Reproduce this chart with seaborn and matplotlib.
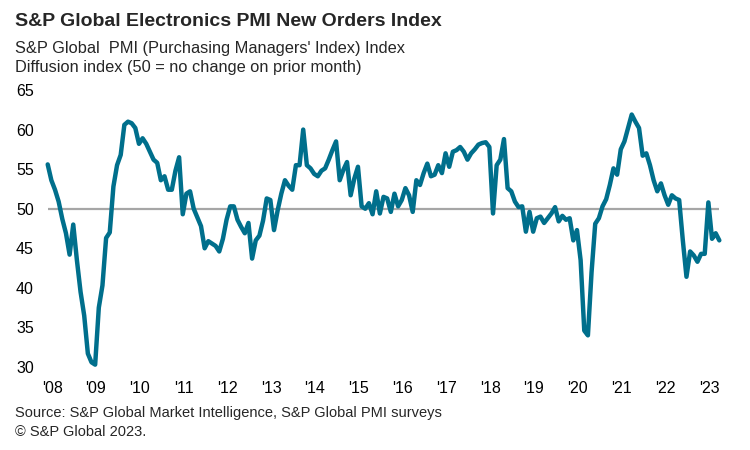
import matplotlib
matplotlib.use('Agg')
import matplotlib.pyplot as plt
import numpy as np
import pandas as pd
import seaborn as sns

# monthly new orders index, Jan 2008 - May 2023
values_2008 = [55.6, 53.6, 52.4, 50.9, 48.7, 46.9, 44.2, 48.0, 43.5, 39.5, 36.5, 31.7]
values_2009 = [30.6, 30.3, 37.5, 40.3, 46.3, 47.0, 52.8, 55.5, 56.8, 60.6, 61.0, 60.8]
values_2010 = [60.2, 58.2, 58.9, 58.2, 57.2, 56.2, 55.8, 53.6, 54.1, 52.4, 52.4, 54.8]
values_2011 = [56.5, 49.3, 51.9, 52.2, 50.0, 48.9, 47.8, 45.0, 45.9, 45.6, 45.3, 44.6]
values_2012 = [46.2, 48.6, 50.3, 50.3, 48.6, 47.7, 46.9, 48.2, 43.7, 46.0, 46.6, 48.5]
values_2013 = [51.3, 51.1, 47.3, 49.8, 51.9, 53.6, 52.9, 52.4, 55.5, 55.5, 60.0, 55.5]
values_2014 = [55.1, 54.4, 54.1, 54.8, 55.1, 56.2, 57.4, 58.5, 53.6, 54.9, 55.9, 51.7]
values_2015 = [53.8, 55.3, 50.3, 50.0, 50.7, 49.3, 52.2, 49.4, 51.5, 51.3, 49.6, 51.9]
values_2016 = [50.3, 51.1, 52.6, 51.7, 49.6, 53.6, 53.0, 54.5, 55.7, 54.1, 54.3, 55.5]
values_2017 = [54.5, 57.0, 55.3, 57.2, 57.4, 57.8, 57.2, 56.2, 57.0, 57.5, 58.1, 58.3]
values_2018 = [58.4, 57.8, 49.4, 55.5, 56.2, 58.8, 52.6, 52.2, 50.9, 50.2, 50.3, 47.1]
values_2019 = [49.6, 47.1, 48.8, 49.0, 48.2, 48.8, 49.4, 50.2, 48.4, 49.1, 48.6, 48.8]
values_2020 = [46.0, 47.3, 43.5, 34.6, 34.0, 42.0, 48.1, 48.8, 50.3, 51.2, 53.0, 55.1]
values_2021 = [54.3, 57.5, 58.5, 60.2, 61.9, 61.0, 60.2, 56.7, 57.0, 55.5, 53.6, 52.2]
values_2022 = [53.2, 51.7, 50.5, 51.7, 51.3, 51.1, 46.0, 41.4, 44.6, 44.1, 43.3, 44.3]
values_2023 = [44.3, 50.8, 46.2, 46.9, 46.0]

year_labels = ["'08", "'09", "'10", "'11", "'12", "'13", "'14", "'15",
               "'16", "'17", "'18", "'19", "'20", "'21", "'22", "'23"]
y_ticks = [30, 35, 40, 45, 50, 55, 60, 65]

TITLE = 'S&P Global Electronics PMI New Orders Index'
SUBTITLE_1 = "S&P Global  PMI (Purchasing Managers' Index) Index"
SUBTITLE_2 = 'Diffusion index (50 = no change on prior month)'
SOURCE = 'Source: S&P Global Market Intelligence, S&P Global PMI surveys'
COPYRIGHT = '© S&P Global 2023.'


def build_frame():
    """Stacks the yearly lists into one dataframe with a running month number"""
    values = (values_2008 + values_2009 + values_2010 + values_2011 + values_2012
              + values_2013 + values_2014 + values_2015 + values_2016 + values_2017
              + values_2018 + values_2019 + values_2020 + values_2021 + values_2022
              + values_2023)
    return pd.DataFrame({'month': np.arange(len(values)), 'new_orders': values})


def create_new_orders_lineplot(df):
    """Draws the new orders index line with the 50 reference line and saves out.png"""
    sns.set_style('white')
    plt.rcParams['font.family'] = ['Liberation Sans', 'DejaVu Sans']

    fig = plt.figure(figsize=(7.5, 4.5), dpi=100)
    ax = fig.add_axes([0.0636, 0.1844, 0.8955, 0.6156])

    ax.axhline(50, color='#A6A6A6', lw=1.6, zorder=1)
    sns.lineplot(data=df, x='month', y='new_orders', color='#006F8C',
                 lw=3.2, ax=ax, clip_on=False, zorder=2)

    ax.set_xlim(0, len(df) - 1)
    ax.set_ylim(30, 65)
    ax.set_yticks(y_ticks)
    ax.set_xticks([12 * i + 1.2 for i in range(len(year_labels))])
    ax.set_xticklabels(year_labels)
    ax.set_xlabel('')
    ax.set_ylabel('')
    ax.tick_params(axis='both', length=0, labelsize=11.5, colors='#000000')
    ax.tick_params(axis='y', pad=10)
    ax.tick_params(axis='x', pad=10)
    sns.despine(ax=ax, left=True, bottom=True)

    fig.text(0.02, 0.953, TITLE, fontsize=14, fontweight='bold', va='center')
    fig.text(0.02, 0.893, SUBTITLE_1, fontsize=11.8, va='center')
    fig.text(0.02, 0.849, SUBTITLE_2, fontsize=11.8, va='center')
    fig.text(0.02, 0.082, SOURCE, fontsize=10.5, va='center')
    fig.text(0.02, 0.04, COPYRIGHT, fontsize=10.5, va='center')

    fig.savefig('out.png', dpi=100)


if __name__ == '__main__':
    create_new_orders_lineplot(build_frame())
